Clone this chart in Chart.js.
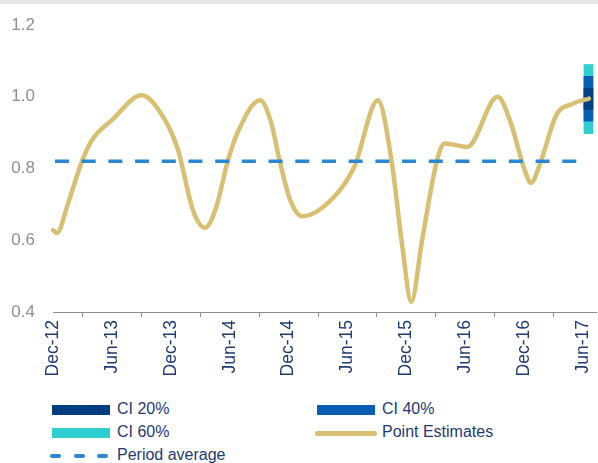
<!DOCTYPE html>
<html>
<head>
<meta charset="utf-8">
<script src="https://cdn.jsdelivr.net/npm/chart.js@4/dist/chart.umd.min.js"></script>
<style>
  html, body { margin: 0; padding: 0; background: #fff; }
  body { width: 598px; height: 463px; position: relative; overflow: hidden; font-family: "Liberation Sans", Arial, sans-serif; }
  #topbar { position: absolute; left: 0; top: 0; width: 598px; height: 4px; background: #e6e6e6; }
  #wrap { position: absolute; left: 0; top: 0; width: 598px; height: 395px; }
  .lg { position: absolute; font-size: 16px; color: #1f3a73; line-height: 18px; white-space: nowrap; }
  .sw { position: absolute; }
</style>
</head>
<body>
<div id="topbar"></div>
<div id="wrap"><canvas id="chart" width="598" height="395"></canvas></div>
<div id="legend"></div>
<script>
// --- Dados ---
const tickLabels = ['Dec-12', 'Jun-13', 'Dec-13', 'Jun-14', 'Dec-14', 'Jun-15', 'Dec-15', 'Jun-16', 'Dec-16', 'Jun-17'];

// meses desde Dec-12 e estimativa pontual
const estMonths = [0, 0.4, 1.5, 2.95, 4, 6, 9.05, 11.1, 12.7, 14.3, 15.5, 16.6, 17.8, 18.8, 21.1, 22.2, 23.1, 24.2, 25.4, 28.5, 30.7, 33.1, 34.5, 35.6, 36.5, 37.6, 39.1, 39.9, 42.2, 45.3, 46.6, 48.0, 48.7, 49.7, 51.3, 52.9, 54.6];
const estValues = [0.628, 0.62, 0.70, 0.82, 0.88, 0.935, 1.004, 0.949, 0.855, 0.68, 0.635, 0.69, 0.82, 0.90, 0.99, 0.93, 0.82, 0.71, 0.667, 0.717, 0.805, 0.99, 0.82, 0.58, 0.428, 0.60, 0.82, 0.87, 0.86, 1.0, 0.93, 0.80, 0.76, 0.82, 0.95, 0.98, 0.995];

const periodAverage = 0.82;
const avgRange = [0.2, 54];

// intervalos de confiança no último ponto
const ciMonth = 54.55;
const ci20 = [0.965, 1.023];
const ci40 = [0.932, 1.057];
const ci60 = [0.897, 1.09];

const navy = '#1f3a73';
const colors = {
    ci20: '#003f7f',
    ci40: '#0a5fb5',
    ci60: '#2ecfcf',
    est: '#d9bf72',
    avg: '#2a87d2'
};

// --- Grafico ---
const estData = estMonths.map((m, i) => ({ x: m, y: estValues[i] }));
const avgData = avgRange.map(m => ({ x: m, y: periodAverage }));

function ciBar(label, range, color, order) {
    return {
        type: 'bar',
        label: label,
        data: [{ x: ciMonth, y: range }],
        backgroundColor: color,
        borderWidth: 0,
        barThickness: 9,
        grouped: false,
        clip: false,
        order: order
    };
}

const chart = new Chart(document.getElementById('chart'), {
    type: 'line',
    data: {
        datasets: [
            {
                label: 'Period average',
                data: avgData,
                borderColor: colors.avg,
                borderWidth: 3.5,
                borderDash: [14, 12.7],
                pointRadius: 0,
                fill: false,
                order: 0
            },
            {
                label: 'Point Estimates',
                data: estData,
                borderColor: colors.est,
                borderWidth: 4.5,
                cubicInterpolationMode: 'monotone',
                pointRadius: 0,
                fill: false,
                clip: false,
                borderCapStyle: 'round',
                order: 1
            },
            ciBar('CI 20%', ci20, colors.ci20, 2),
            ciBar('CI 40%', ci40, colors.ci40, 3),
            ciBar('CI 60%', ci60, colors.ci60, 4)
        ]
    },
    options: {
        responsive: false,
        animation: false,
        layout: { padding: { top: 25, right: 2, left: 0, bottom: 0 } },
        plugins: { legend: { display: false }, tooltip: { enabled: false } },
        scales: {
            x: {
                type: 'linear',
                min: 0,
                max: 55.32,
                offset: false,
                afterBuildTicks: (scale) => {
                    scale.ticks = tickLabels.map((t, i) => ({ value: i * 6 }));
                },
                afterFit: (scale) => {
                    scale.height = 395 - 312;
                    scale.paddingLeft = 0;
                    scale.paddingRight = 0;
                },
                grid: { drawOnChartArea: false, tickLength: 5, tickColor: '#8c8c8c', tickWidth: 1 },
                border: { color: '#8c8c8c', width: 1 },
                ticks: {
                    autoSkip: false,
                    minRotation: 90,
                    maxRotation: 90,
                    padding: 3,
                    color: navy,
                    font: { family: '"Liberation Sans", Arial, sans-serif', size: 17.5 },
                    callback: (v) => tickLabels[Math.round(v / 6)]
                }
            },
            y: {
                min: 0.4,
                max: 1.2,
                afterFit: (scale) => { scale.width = 53; },
                grid: { display: false },
                border: { display: false },
                ticks: {
                    stepSize: 0.2,
                    padding: 10,
                    color: '#8f8f8f',
                    font: { family: '"Liberation Sans", Arial, sans-serif', size: 17 },
                    callback: (v) => v.toFixed(1)
                }
            }
        }
    }
});

// --- Legenda em HTML ---
const legendItems = [
    { label: 'CI 20%', kind: 'box', color: colors.ci20, x: 52, y: 410 },
    { label: 'CI 40%', kind: 'box', color: colors.ci40, x: 317, y: 410 },
    { label: 'CI 60%', kind: 'box', color: colors.ci60, x: 52, y: 433 },
    { label: 'Point Estimates', kind: 'line', color: colors.est, x: 315, y: 433 },
    { label: 'Period average', kind: 'dash', color: colors.avg, x: 50, y: 456 }
];

function renderLegend() {
    const container = document.getElementById('legend');
    container.innerHTML = legendItems.map(item => {
        let sw = '';
        if (item.kind === 'box') {
            sw = `<div class="sw" style="left:${item.x}px;top:${item.y - 5}px;width:58px;height:10px;background:${item.color}"></div>`;
        } else if (item.kind === 'line') {
            sw = `<div class="sw" style="left:${item.x}px;top:${item.y - 2.5}px;width:62px;height:5px;border-radius:3px;background:${item.color}"></div>`;
        } else {
            sw = [0, 24, 47].map(dx =>
                `<div class="sw" style="left:${item.x + dx}px;top:${item.y - 2}px;width:11px;height:4px;border-radius:2px;background:${item.color}"></div>`
            ).join('');
        }
        const tx = item.kind === 'line' ? item.x + 67 : item.x + 65 + (item.kind === 'dash' ? 2 : 0);
        return sw + `<div class="lg" style="left:${tx}px;top:${item.y - 10}px">${item.label}</div>`;
    }).join('');
}

renderLegend();
</script>
</body>
</html>
